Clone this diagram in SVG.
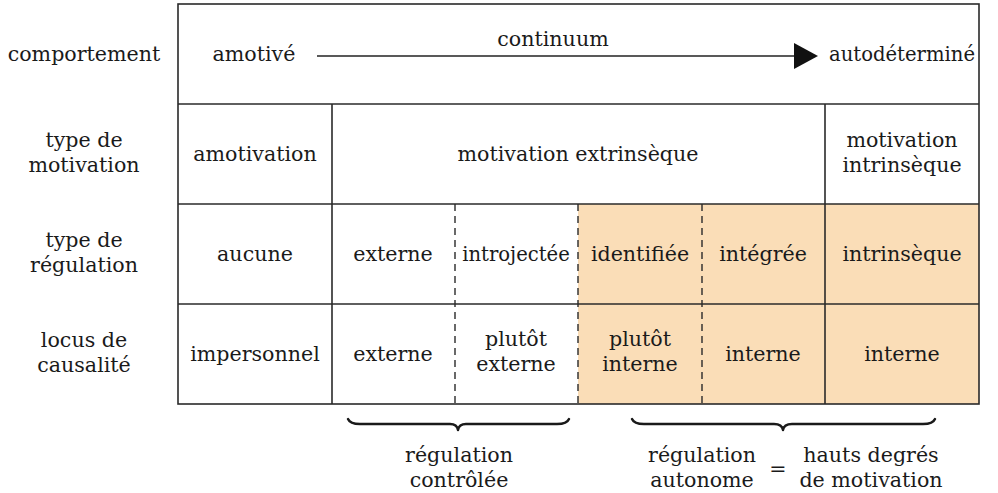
<svg xmlns="http://www.w3.org/2000/svg" width="998" height="493" viewBox="0 0 998 493">
<style>
text{font-family:"DejaVu Serif","Liberation Serif",serif;font-size:20.6px;fill:#1a1a1a;text-anchor:middle}
text.tight{font-size:19.6px}
.grid{stroke:#2a2a2a;stroke-width:1.6;fill:none}
.dash{stroke:#2a2a2a;stroke-width:1.4;stroke-dasharray:7,5;fill:none}
.brace{stroke:#1a1a1a;stroke-width:2.4;fill:none;stroke-linecap:round;stroke-linejoin:round}
</style>
<defs>
<marker id="ah" viewBox="0 0 24 26" refX="2" refY="13" markerWidth="24" markerHeight="26" markerUnits="userSpaceOnUse" orient="auto">
<polygon points="0,0 24,13 0,26" fill="#111"/>
</marker>
</defs>
<rect x="0" y="0" width="998" height="493" fill="#fff"/>
<g id="table">
<rect x="578" y="204" width="401" height="200" fill="#FADDB7"/>
<rect class="grid" x="178" y="4" width="801" height="400"/>
<line class="grid" x1="178" y1="104" x2="979" y2="104"/>
<line class="grid" x1="178" y1="204" x2="979" y2="204"/>
<line class="grid" x1="178" y1="304" x2="979" y2="304"/>
<line class="grid" x1="332" y1="104" x2="332" y2="404"/>
<line class="grid" x1="825" y1="104" x2="825" y2="404"/>
<line class="dash" x1="578" y1="204" x2="578" y2="404"/>
<line class="dash" x1="455" y1="204" x2="455" y2="404"/>
<line class="dash" x1="702" y1="204" x2="702" y2="404"/>
</g>
<g id="connectors">
<line x1="317" y1="56" x2="796" y2="56" stroke="#222" stroke-width="1.5" marker-end="url(#ah)"/>
<path class="brace" d="M348,419 Q350,424 360,424 L450,424 Q457,424 458,430 Q459,424 466,424 L557,424 Q567,424 569,419"/>
<path class="brace" d="M632,419 Q634,424 644,424 L774,424 Q782,424 783,430 Q784,424 792,424 L923,424 Q933,424 935,419"/>
</g>
<g id="row-labels">
<text x="84" y="61">comportement</text>
<text x="84" y="147">type de</text><text x="84" y="172">motivation</text>
<text x="84" y="247">type de</text><text x="84" y="272">régulation</text>
<text x="84" y="347">locus de</text><text x="84" y="372">causalité</text>
</g>
<g id="comportement">
<text x="254" y="61">amotivé</text>
<text x="553" y="46">continuum</text>
<text class="tight" x="902" y="61">autodéterminé</text>
</g>
<g id="amotivation"><text x="255" y="161">amotivation</text></g>
<g id="extrinseque"><text x="578" y="161">motivation extrinsèque</text></g>
<g id="intrinseque"><text x="902" y="147">motivation</text><text x="902" y="172">intrinsèque</text></g>
<g id="reg-aucune"><text x="255" y="261">aucune</text></g>
<g id="reg-externe"><text x="393" y="261">externe</text></g>
<g id="reg-introjectee"><text class="tight" x="516" y="261">introjectée</text></g>
<g id="reg-identifiee"><text x="640" y="261">identifiée</text></g>
<g id="reg-integree"><text x="763" y="261">intégrée</text></g>
<g id="reg-intrinseque"><text x="902" y="261">intrinsèque</text></g>
<g id="loc-impersonnel"><text x="255" y="361">impersonnel</text></g>
<g id="loc-externe"><text x="393" y="361">externe</text></g>
<g id="loc-plutot-externe"><text x="516" y="346">plutôt</text><text x="516" y="371">externe</text></g>
<g id="loc-plutot-interne"><text x="640" y="346">plutôt</text><text x="640" y="371">interne</text></g>
<g id="loc-interne1"><text x="763" y="361">interne</text></g>
<g id="loc-interne2"><text x="902" y="361">interne</text></g>
<g id="reg-controlee"><text x="459" y="462">régulation</text><text x="459" y="487">contrôlée</text></g>
<g id="reg-autonome"><text x="702" y="462">régulation</text><text x="702" y="487">autonome</text></g>
<g id="equals"><text x="778" y="476">=</text></g>
<g id="hauts-degres"><text x="871" y="462">hauts degrés</text><text x="871" y="487">de motivation</text></g>
</svg>
